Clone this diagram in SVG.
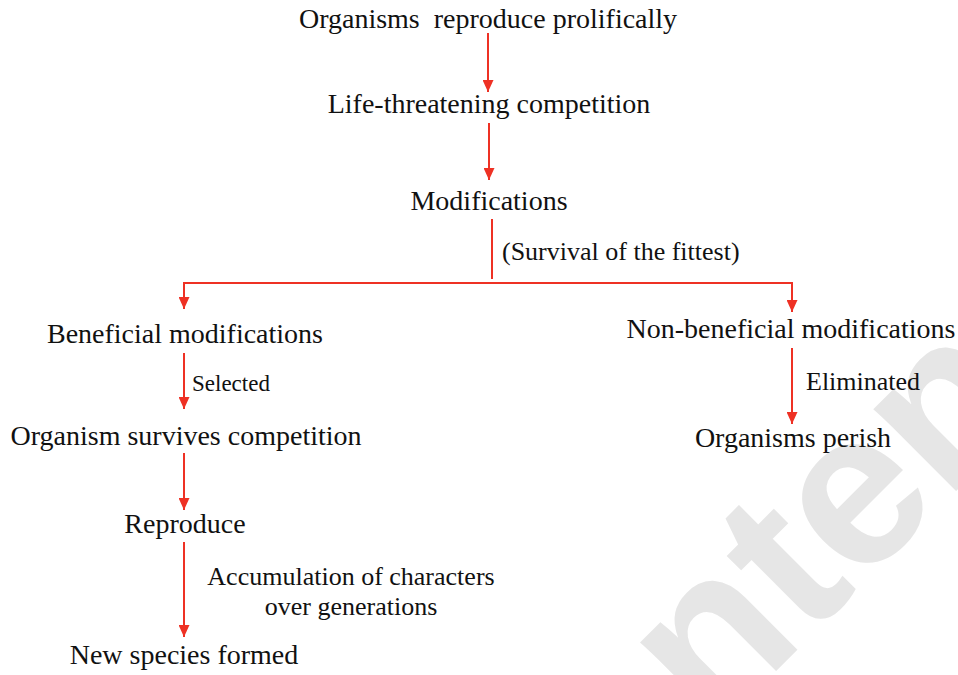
<svg xmlns="http://www.w3.org/2000/svg" width="958" height="675" viewBox="0 0 958 675">
  <defs>
    <marker id="arrow" markerUnits="userSpaceOnUse" markerWidth="12" markerHeight="11" refX="12" refY="5.5" orient="auto" viewBox="0 0 12 11">
      <path d="M0,0 L12,5.5 L0,11 Z" fill="#ee3124"/>
    </marker>
    <style>
      text { font-family: "Liberation Serif", "Times New Roman", serif; fill: #111; white-space: pre; }
      .node { font-size: 28px; text-anchor: middle; }
      .label { font-size: 26px; }
      .small { font-size: 23px; }
      .edge { stroke: #ee3124; stroke-width: 2; fill: none; }
      .arrow { marker-end: url(#arrow); }
      .mark { font-family: "Liberation Sans", Arial, sans-serif; font-weight: bold; font-size: 220px; fill: #e6e6e6; }
    </style>
  </defs>

  <rect width="958" height="675" fill="#ffffff"/>

  <!-- background watermark -->
  <text class="mark" transform="translate(712 735) rotate(-45)">ntent</text>

  <!-- connectors -->
  <g id="connectors">
    <line class="edge arrow" x1="488" y1="33" x2="488" y2="92"/>
    <line class="edge arrow" x1="489" y1="123" x2="489" y2="180"/>
    <line class="edge" x1="492" y1="219" x2="492" y2="279"/>
    <polyline class="edge" points="184,283 793,283"/>
    <line class="edge arrow" x1="184" y1="282" x2="184" y2="309"/>
    <line class="edge arrow" x1="792" y1="282" x2="792" y2="312"/>
    <line class="edge arrow" x1="184" y1="353" x2="184" y2="409"/>
    <line class="edge arrow" x1="184" y1="453" x2="184" y2="510"/>
    <line class="edge arrow" x1="184" y1="542" x2="184" y2="637"/>
    <line class="edge arrow" x1="792" y1="348" x2="792" y2="424"/>
    <text class="label" x="502" y="260">(Survival of the fittest)</text>
    <text class="small" x="192" y="391">Selected</text>
    <text class="label" x="351" y="585" text-anchor="middle">Accumulation of characters</text>
    <text class="label" x="351" y="615" text-anchor="middle">over generations</text>
    <text class="label" x="806" y="390">Eliminated</text>
  </g>

  <!-- nodes -->
  <g id="n-reproduce-prolifically"><text class="node" x="488" y="28">Organisms  reproduce prolifically</text></g>
  <g id="n-competition"><text class="node" x="489" y="113">Life-threatening competition</text></g>
  <g id="n-modifications"><text class="node" x="489" y="210">Modifications</text></g>
  <g id="n-beneficial"><text class="node" x="185" y="343">Beneficial modifications</text></g>
  <g id="n-survives"><text class="node" x="186" y="445">Organism survives competition</text></g>
  <g id="n-reproduce"><text class="node" x="185" y="533">Reproduce</text></g>
  <g id="n-new-species"><text class="node" x="184" y="664">New species formed</text></g>
  <g id="n-non-beneficial"><text class="node" x="791" y="338">Non-beneficial modifications</text></g>
  <g id="n-perish"><text class="node" x="793" y="447">Organisms perish</text></g>
</svg>
